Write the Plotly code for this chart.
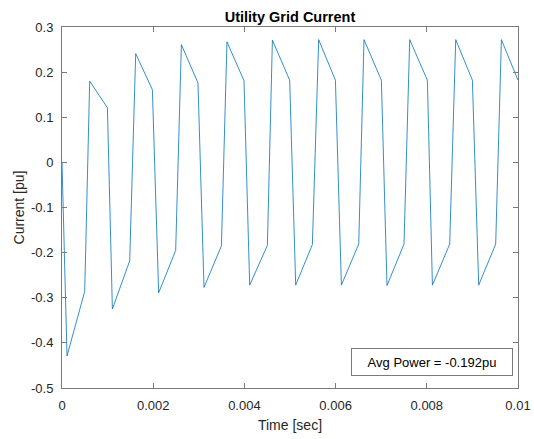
import plotly.graph_objects as go

# Time (sec) and current (pu) vertices
time_s = [0.0, 0.00006, 0.00011,
          0.000498, 0.000607, 0.000996, 0.001105,
          0.001485, 0.001616, 0.001982, 0.00212,
          0.002493, 0.002618, 0.002982, 0.003114,
          0.003496, 0.003618, 0.003991, 0.004116,
          0.004504, 0.004614, 0.004993, 0.005125,
          0.005491, 0.005629, 0.005996, 0.006127,
          0.006507, 0.006623, 0.007004, 0.007127,
          0.0075, 0.007625, 0.008013, 0.008123,
          0.008502, 0.008634, 0.009, 0.009138,
          0.009511, 0.009636, 0.01]
current_pu = [0.0, -0.265, -0.429,
              -0.286, 0.180, 0.121, -0.325,
              -0.218, 0.241, 0.161, -0.289,
              -0.195, 0.261, 0.176, -0.277,
              -0.185, 0.267, 0.181, -0.272,
              -0.184, 0.271, 0.182, -0.272,
              -0.182, 0.272, 0.182, -0.272,
              -0.181, 0.272, 0.182, -0.273,
              -0.181, 0.272, 0.182, -0.272,
              -0.181, 0.272, 0.182, -0.272,
              -0.181, 0.272, 0.182]

x_ticks = [0, 0.002, 0.004, 0.006, 0.008, 0.01]
x_ticklabels = ["0", "0.002", "0.004", "0.006", "0.008", "0.01"]
y_ticks = [0.3, 0.2, 0.1, 0, -0.1, -0.2, -0.3, -0.4, -0.5]
y_ticklabels = ["0.3", "0.2", "0.1", "0", "-0.1", "-0.2", "-0.3", "-0.4", "-0.5"]

title_text = "Utility Grid Current"
x_label = "Time [sec]"
y_label = "Current [pu]"
note_text = "Avg Power = -0.192pu"

FONT = "Liberation Sans, Arial, Helvetica, sans-serif"
AXC = "#262626"

fig = go.Figure()
fig.add_trace(go.Scatter(x=time_s, y=current_pu, mode="lines",
                         line=dict(color="#0072BD", width=0.8),
                         showlegend=False, hoverinfo="skip"))

axis_common = dict(showline=True, linecolor="#7a7a7a", linewidth=1,
                   mirror="ticks", ticks="inside", ticklen=5,
                   tickcolor="#7a7a7a", tickwidth=1,
                   showgrid=False, zeroline=False, automargin=False,
                   tickfont=dict(family=FONT, size=13, color=AXC))

fig.update_layout(
    width=534, height=439,
    margin=dict(l=62, r=16, t=27, b=51),
    paper_bgcolor="white", plot_bgcolor="white",
    title=dict(text="<b>" + title_text + "</b>", x=(62 + 518) / 2 / 534,
               xanchor="center", y=1 - 17 / 439, yanchor="middle",
               font=dict(family=FONT, size=14.5, color="black")),
    xaxis=dict(range=[0, 0.01], tickvals=x_ticks, ticktext=x_ticklabels,
               ticklabelstandoff=5,
               title=dict(text=x_label, standoff=8,
                          font=dict(family=FONT, size=14, color=AXC)),
               **axis_common),
    yaxis=dict(range=[-0.5, 0.3], tickvals=y_ticks, ticktext=y_ticklabels,
               ticklabelstandoff=5,
               title=dict(text=y_label, standoff=3,
                          font=dict(family=FONT, size=14, color=AXC)),
               **axis_common),
    annotations=[dict(text=note_text, xref="paper", yref="paper",
                      x=0.811, y=0.072, xanchor="center", yanchor="middle",
                      showarrow=False, width=156, height=22,
                      bordercolor="#7a7a7a", borderwidth=1, borderpad=2,
                      bgcolor="white",
                      font=dict(family=FONT, size=13, color="black"))],
)

fig.write_html("out.html")
